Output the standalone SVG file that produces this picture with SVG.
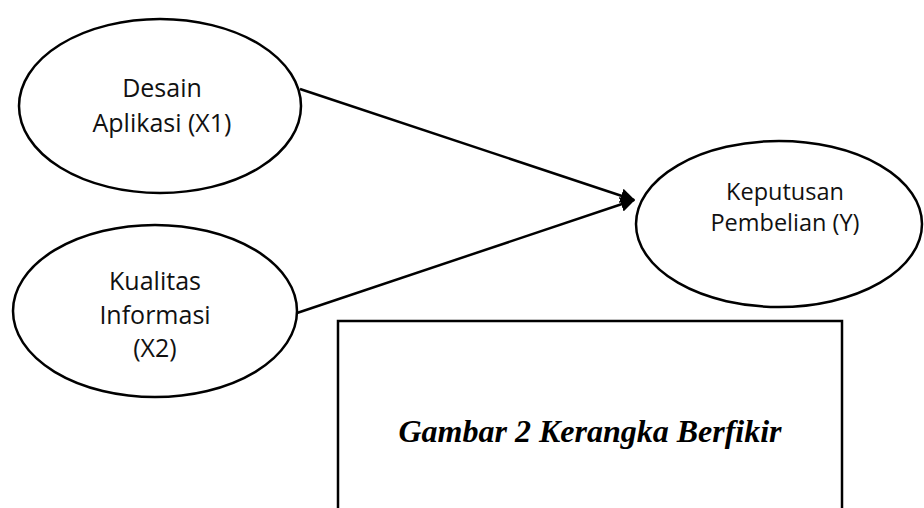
<svg xmlns="http://www.w3.org/2000/svg" width="924" height="508" viewBox="0 0 924 508">
<style>
.node{fill:#fff;stroke:#000;stroke-width:2.5}
.lbl{font-family:"Open Sans","Noto Sans",sans-serif;fill:#111;text-anchor:middle}
.conn{stroke:#000;stroke-width:2.5;fill:none;marker-end:url(#arr)}
.cap{font-family:"Liberation Serif","Times New Roman",serif;font-weight:bold;font-style:italic;font-size:32px;text-anchor:middle;fill:#000}
</style>
<defs>
<marker id="arr" viewBox="0 0 10 10" refX="9" refY="5" markerWidth="6" markerHeight="6.5" markerUnits="strokeWidth" orient="auto">
<path d="M0,0 L10,5 L0,10 z" fill="#000"/>
</marker>
</defs>
<rect width="924" height="508" fill="#fff"/>
<g id="connectors">
<line class="conn" x1="300" y1="89" x2="634" y2="200"/>
<line class="conn" x1="297" y1="313" x2="634" y2="200"/>
</g>
<g id="x1">
<ellipse class="node" cx="160" cy="106" rx="141" ry="87"/>
<text class="lbl" x="162" y="97" font-size="25">Desain</text>
<text class="lbl" x="162" y="132" font-size="25">Aplikasi (X1)</text>
</g>
<g id="x2">
<ellipse class="node" cx="155" cy="311" rx="142" ry="86"/>
<text class="lbl" x="155" y="290" font-size="25">Kualitas</text>
<text class="lbl" x="155" y="324" font-size="25">Informasi</text>
<text class="lbl" x="155" y="357" font-size="25">(X2)</text>
</g>
<g id="y">
<ellipse class="node" cx="779" cy="224" rx="143" ry="83"/>
<text class="lbl" x="785" y="200" font-size="23.5">Keputusan</text>
<text class="lbl" x="785" y="231" font-size="23.5">Pembelian (Y)</text>
</g>
<g id="caption">
<rect x="338" y="321" width="504" height="200" fill="none" stroke="#000" stroke-width="2.5"/>
<text class="cap" x="590" y="442">Gambar 2 Kerangka Berfikir</text>
</g>
</svg>
